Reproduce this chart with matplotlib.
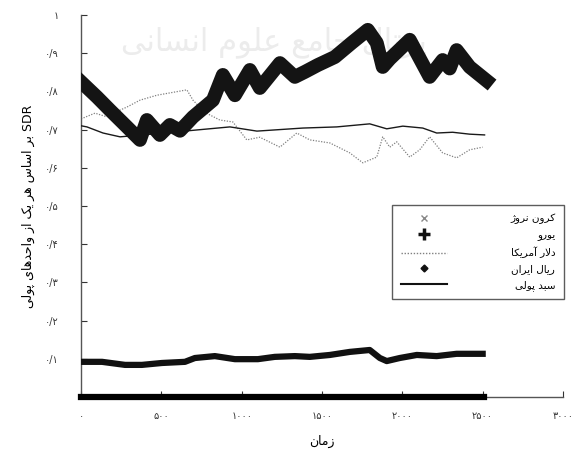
import matplotlib
matplotlib.use('Agg')
import matplotlib.pyplot as plt
from matplotlib.lines import Line2D

# --- Persian text helpers (matplotlib does no Arabic shaping / bidi) ---
FORMS = {
    'ا': ('\uFE8D', '\uFE8E', None, None),
    'آ': ('\uFE81', '\uFE82', None, None),
    'ب': ('\uFE8F', '\uFE90', '\uFE91', '\uFE92'),
    'پ': ('\uFB56', '\uFB57', '\uFB58', '\uFB59'),
    'ت': ('\uFE95', '\uFE96', '\uFE97', '\uFE98'),
    'ج': ('\uFE9D', '\uFE9E', '\uFE9F', '\uFEA0'),
    'ح': ('\uFEA1', '\uFEA2', '\uFEA3', '\uFEA4'),
    'د': ('\uFEA9', '\uFEAA', None, None),
    'ر': ('\uFEAD', '\uFEAE', None, None),
    'ز': ('\uFEAF', '\uFEB0', None, None),
    'ژ': ('\uFB8A', '\uFB8B', None, None),
    'س': ('\uFEB1', '\uFEB2', '\uFEB3', '\uFEB4'),
    'ع': ('\uFEC9', '\uFECA', '\uFECB', '\uFECC'),
    'ک': ('\uFB8E', '\uFB8F', '\uFB90', '\uFB91'),
    'ل': ('\uFEDD', '\uFEDE', '\uFEDF', '\uFEE0'),
    'م': ('\uFEE1', '\uFEE2', '\uFEE3', '\uFEE4'),
    'ن': ('\uFEE5', '\uFEE6', '\uFEE7', '\uFEE8'),
    'و': ('\uFEED', '\uFEEE', None, None),
    'ه': ('\uFEE9', '\uFEEA', '\uFEEB', '\uFEEC'),
    'ی': ('\uFBFC', '\uFBFD', '\uFBFE', '\uFBFF'),
}


def _dual(c):
    return c in FORMS and FORMS[c][2] is not None


def shape(word):
    out = []
    i = 0
    n = len(word)
    while i < n:
        c = word[i]
        if c not in FORMS:
            out.append(c)
            i += 1
            continue
        jp = i > 0 and _dual(word[i - 1])
        if c == 'ل' and i + 1 < n and word[i + 1] in ('ا', 'آ'):
            lig = ('\uFEFB', '\uFEFC') if word[i + 1] == 'ا' else ('\uFEF5', '\uFEF6')
            out.append(lig[1] if jp else lig[0])
            i += 2
            continue
        jn = _dual(c) and i + 1 < n and word[i + 1] in FORMS
        f = FORMS[c]
        if jp and jn:
            g = f[3]
        elif jp:
            g = f[1]
        elif jn:
            g = f[2]
        else:
            g = f[0]
        out.append(g)
        i += 1
    return ''.join(out)


def fa(text):
    vis = []
    for tok in text.split(' '):
        if any(ch in FORMS for ch in tok):
            vis.append(shape(tok)[::-1])
        else:
            vis.append(tok)
    return ' '.join(vis[::-1])


def fa_num(s):
    return s.translate(str.maketrans('0123456789.', '۰۱۲۳۴۵۶۷۸۹/'))


# --- data ---
euro_t = [0, 100, 180, 286, 367, 410, 491, 553, 616, 697, 821, 883, 958, 1051, 1113,
          1238, 1331, 1393, 1474, 1580, 1685, 1785, 1841, 1878, 1922, 2046, 2170,
          2251, 2295, 2338, 2419, 2525]
euro = [0.825, 0.785, 0.751, 0.707, 0.673, 0.725, 0.686, 0.712, 0.697, 0.733, 0.777,
        0.843, 0.790, 0.856, 0.809, 0.874, 0.838, 0.851, 0.869, 0.890, 0.927, 0.961,
        0.927, 0.864, 0.885, 0.935, 0.838, 0.882, 0.860, 0.908, 0.864, 0.828]

usd_t = [0, 87, 149, 211, 286, 367, 473, 553, 659, 697, 771, 864, 945, 1032, 1113,
         1238, 1343, 1424, 1549, 1673, 1754, 1841, 1878, 1922, 1965, 2046, 2108,
         2170, 2251, 2338, 2419, 2500]
usd = [0.728, 0.743, 0.735, 0.745, 0.759, 0.777, 0.790, 0.796, 0.804, 0.777, 0.745,
       0.725, 0.720, 0.673, 0.680, 0.654, 0.691, 0.673, 0.665, 0.639, 0.613, 0.628,
       0.681, 0.654, 0.668, 0.628, 0.647, 0.681, 0.639, 0.626, 0.647, 0.654]

basket_t = [0, 37, 137, 243, 491, 721, 927, 1095, 1381, 1592, 1797, 1903, 2003,
            2127, 2214, 2313, 2419, 2512]
basket = [0.710, 0.707, 0.691, 0.681, 0.690, 0.699, 0.707, 0.696, 0.704, 0.707,
          0.715, 0.702, 0.709, 0.704, 0.691, 0.693, 0.688, 0.686]

nok_t = [0, 131, 274, 379, 504, 647, 709, 833, 958, 1101, 1206, 1331, 1424, 1549,
         1673, 1797, 1860, 1903, 1984, 2090, 2214, 2338, 2500]
nok = [0.092, 0.092, 0.084, 0.084, 0.089, 0.092, 0.102, 0.107, 0.099, 0.099, 0.105,
       0.107, 0.105, 0.110, 0.118, 0.123, 0.102, 0.094, 0.102, 0.110, 0.107, 0.113,
       0.113]

rial_t = [0, 500, 1000, 1500, 2000, 2510]
rial = [0.0001, 0.0001, 0.0001, 0.0001, 0.0001, 0.0001]

x_ticks = [0, 500, 1000, 1500, 2000, 2500, 3000]
y_ticks = [0.1, 0.2, 0.3, 0.4, 0.5, 0.6, 0.7, 0.8, 0.9, 1.0]
y_tick_labels = ['0.1', '0.2', '0.3', '0.4', '0.5', '0.6', '0.7', '0.8', '0.9', '1']

labels = ['کرون نروژ', 'یورو', 'دلار آمریکا', 'ریال ایران', 'سبد پولی']

plt.rcParams['font.family'] = ['DejaVu Sans']

fig = plt.figure(figsize=(5.77, 4.54), dpi=100)
ax = fig.add_axes([0.1404, 0.1256, 0.8353, 0.8414])

# watermark of the source page
ax.text(0.40, 0.93, fa('پرتال جامع علوم انسانی'), transform=ax.transAxes,
        ha='center', va='center', fontsize=22, color='#ececec', zorder=0)

ax.plot(usd_t, usd, color='#808080', lw=0.9, linestyle=(0, (1, 1.2)), zorder=2)
ax.plot(basket_t, basket, color='#1a1a1a', lw=1.0, zorder=3)
ax.plot(euro_t, euro, color='#141414', lw=10, solid_joinstyle='round', zorder=4)
ax.plot(nok_t, nok, color='#111111', lw=4.5, zorder=3)
ax.plot(rial_t, rial, color='#000000', lw=4.5, zorder=3, clip_on=False)

ax.set_xlim(0, 3000)
ax.set_ylim(0, 1)
ax.spines['top'].set_visible(False)
ax.spines['right'].set_visible(False)
for s in ('left', 'bottom'):
    ax.spines[s].set_color('#555555')
    ax.spines[s].set_linewidth(1.0)

ax.set_xticks(x_ticks)
ax.set_xticklabels([fa_num(str(v)) for v in x_ticks])
ax.set_yticks(y_ticks)
ax.set_yticklabels([fa_num(s) for s in y_tick_labels])
ax.tick_params(axis='x', direction='in', length=4, pad=10, labelsize=7, colors='#333333')
ax.tick_params(axis='y', direction='in', length=4, pad=16, labelsize=7, colors='#333333')

ax.set_xlabel(fa('زمان'), fontsize=9, labelpad=10)
ax.set_ylabel(fa('SDR بر اساس هر یک از واحدهای پولی'), fontsize=9, labelpad=7)

handles = [
    Line2D([], [], lw=0, marker='x', ms=5, mew=1.0, color='#888888'),
    Line2D([], [], lw=0, marker='+', ms=9, mew=2.5, color='#111111'),
    Line2D([], [], lw=1.0, linestyle=(0, (1, 1.2)), color='#808080'),
    Line2D([], [], lw=0, marker='D', ms=3.5, color='#111111'),
    Line2D([], [], lw=1.5, color='#111111'),
]
leg = ax.legend(handles, [fa(l) for l in labels], loc='upper left',
                bbox_to_anchor=(0.635, 0.516), frameon=True, fancybox=False,
                edgecolor='#333333', fontsize=7.5, handlelength=4.5,
                handletextpad=6.0, labelspacing=0.55, borderpad=0.8)
leg.get_frame().set_linewidth(1.0)

# right-align the legend labels like the original
fig.canvas.draw()
r = fig.canvas.get_renderer()
widths = [t.get_window_extent(r).width for t in leg.get_texts()]
wmax = max(widths)
for t, w in zip(leg.get_texts(), widths):
    t.set_position((wmax - w, 0))

fig.savefig('out.png', dpi=100)
